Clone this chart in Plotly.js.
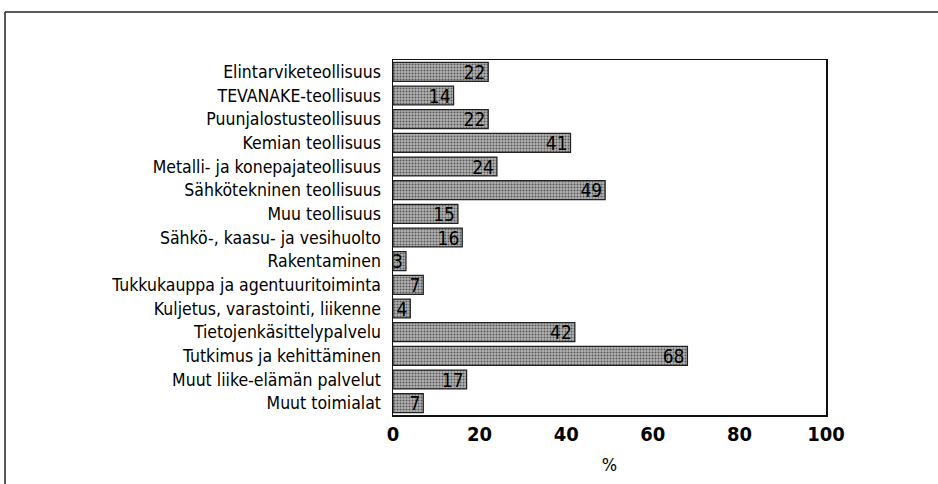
<!DOCTYPE html>
<html>
<head>
<meta charset="utf-8">
<script src="https://cdn.plot.ly/plotly-3.0.1.min.js"></script>
<style>html,body{margin:0;padding:0;background:#fff}#chart{width:938px;height:484px}</style>
</head>
<body>
<div id="chart"></div>
<script>
const categories = [
  "Elintarviketeollisuus",
  "TEVANAKE-teollisuus",
  "Puunjalostusteollisuus",
  "Kemian teollisuus",
  "Metalli- ja konepajateollisuus",
  "Sähkötekninen teollisuus",
  "Muu teollisuus",
  "Sähkö-, kaasu- ja vesihuolto",
  "Rakentaminen",
  "Tukkukauppa ja agentuuritoiminta",
  "Kuljetus, varastointi, liikenne",
  "Tietojenkäsittelypalvelu",
  "Tutkimus ja kehittäminen",
  "Muut liike-elämän palvelut",
  "Muut toimialat"
];
const values = [22, 14, 22, 41, 24, 49, 15, 16, 3, 7, 4, 42, 68, 17, 7];
const tickVals = [0, 20, 40, 60, 80, 100];
const tickText = ["0", "20", "40", "60", "80", "100"];

const F = "DejaVu Sans Condensed, Liberation Sans Narrow, sans-serif";
const L = 393, R = 112, T = 60, B = 69, W = 938, H = 484;
const pw = W - L - R, ph = H - T - B;
const px = x => (x - L) / pw;
const py = y => 1 - (y - T) / ph;

const trace = {
  type: "bar",
  orientation: "h",
  y: categories,
  x: values,
  text: values.map(String),
  textposition: "inside",
  insidetextanchor: "end",
  textangle: 0,
  constraintext: "none",
  insidetextfont: {family: F, size: 19, color: "#000"},
  marker: {
    color: "#a8a8a8",
    line: {color: "#222", width: 1.2},
    pattern: {shape: ".", fgcolor: "#5a5a5a", bgcolor: "#b4b4b4", size: 3, solidity: 0.4}
  },
  hoverinfo: "skip",
  cliponaxis: false
};

const layout = {
  width: W, height: H,
  margin: {l: L, r: R, t: T, b: B, pad: 0},
  paper_bgcolor: "#fff",
  plot_bgcolor: "#fff",
  showlegend: false,
  bargap: 0.2,
  xaxis: {
    range: [0, 100],
    tickvals: tickVals,
    ticktext: tickText,
    ticks: "",
    showgrid: false,
    zeroline: false,
    showline: true,
    mirror: true,
    linecolor: "#111",
    linewidth: 1.5,
    tickfont: {family: F, size: 20, color: "#000", weight: "bold"},
    title: {text: "%", font: {family: F, size: 18, color: "#000"}, standoff: 14}
  },
  yaxis: {
    autorange: "reversed",
    ticks: "",
    showgrid: false,
    zeroline: false,
    showline: true,
    mirror: true,
    linecolor: "#111",
    linewidth: 1.5,
    ticklabelstandoff: 7,
    tickfont: {family: F, size: 17.5, color: "#000"}
  },
  shapes: [
    {type: "line", xref: "paper", yref: "paper", x0: px(5), x1: px(938), y0: py(12), y1: py(12), line: {color: "#222", width: 1.5}},
    {type: "line", xref: "paper", yref: "paper", x0: px(5), x1: px(5), y0: py(12), y1: py(484), line: {color: "#222", width: 1.5}}
  ]
};

Plotly.newPlot("chart", [trace], layout, {staticPlot: true, displayModeBar: false});
</script>
</body>
</html>
